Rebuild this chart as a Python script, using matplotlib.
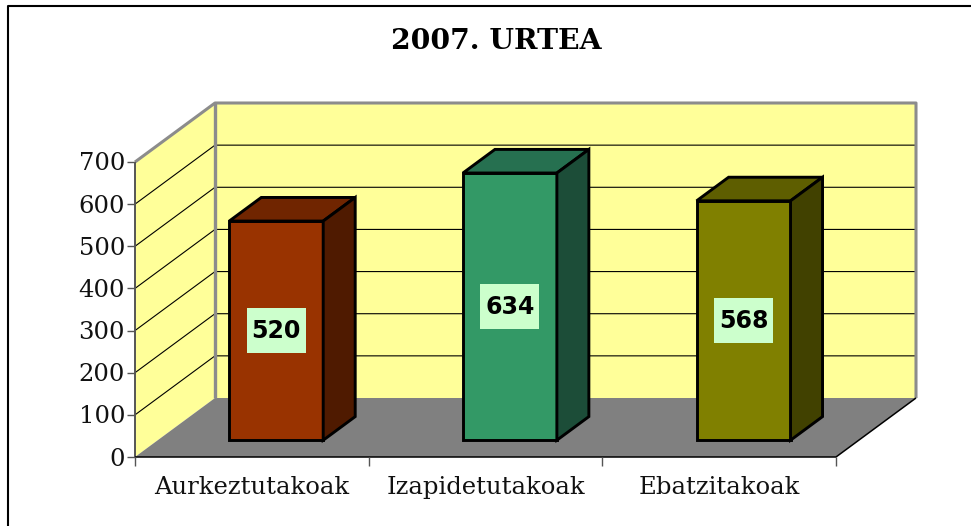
import numpy as np
import matplotlib
matplotlib.use('Agg')
import matplotlib.pyplot as plt
from matplotlib.patches import Polygon, Rectangle

kategoriak = ['Aurkeztutakoak', 'Izapidetutakoak', 'Ebatzitakoak']
balioak = [520, 634, 568]
tickak = [0, 100, 200, 300, 400, 500, 600, 700]

# oszlopok színei: elöl, tető, oldal
szin_elol = ['#993300', '#339966', '#808000']
szin_teto = ['#702500', '#267050', '#5E5E00']
szin_oldal = ['#4F1A00', '#1C4D38', '#414100']

W, H = 971, 526
fig = plt.figure(figsize=(W / 100, H / 100), dpi=100, facecolor='white')

# külső keret
hatter = fig.add_axes([0, 0, 1, 1])
hatter.set_xlim(0, W)
hatter.set_ylim(H, 0)
hatter.axis('off')
hatter.plot([7.5, 7.5, W], [H, 5.5, 5.5], color='black', lw=1.5)

# az első sík az axes, a mélység eltolás adatkoordinátában
x0, x1, y0, y1 = 135, 836, 457, 162
ax = fig.add_axes([x0 / W, (H - y0) / H, (x1 - x0) / W, (y0 - y1) / H])
ax.set_xlim(0, 3)
ax.set_ylim(0, 700)
ax.axis('off')
px = 3 / (x1 - x0)
py = 700 / (y0 - y1)
dx = 80 * px
dy = 59 * py


def poli(pontok, **kw):
    ax.add_patch(Polygon(pontok, closed=True, clip_on=False, **kw))


def vonal(xs, ys, **kw):
    ax.plot(xs, ys, clip_on=False, solid_capstyle='butt', **kw)


sarga = '#FFFF99'
szurke = '#808080'
poli([(0, 0), (dx, dy), (3 + dx, dy), (3 + dx, 700 + dy), (dx, 700 + dy), (0, 700)],
     facecolor=sarga, edgecolor='none', zorder=1)
poli([(0, 0), (3, 0), (3 + dx, dy), (dx, dy)], facecolor=szurke, edgecolor='none', zorder=2)

# rácsvonalak
for t in tickak[1:-1]:
    vonal([0, dx, 3 + dx], [t, t + dy, t + dy], color='black', lw=0.8, zorder=2)

# hátsó fal kerete
vonal([0, dx, 3 + dx, 3 + dx], [700, 700 + dy, 700 + dy, dy], color='#8C8C8C', lw=2.2, zorder=2)
vonal([dx, dx], [dy, 700 + dy], color='#8C8C8C', lw=2.4, zorder=2)

# tengelyek
vonal([0, 0], [0, 700], color='#555555', lw=1.4, zorder=3)
vonal([0, 3, 3 + dx], [0, 0, dy], color='black', lw=1.1, zorder=3)
for t in tickak:
    vonal([-8 * px, 0], [t, t], color='#555555', lw=1, zorder=3)
    ax.text(-10 * px, t - 2 * py, str(t), ha='right', va='center', fontsize=17.5,
            family='DejaVu Serif', color='#111111', zorder=5)
for i in range(4):
    vonal([i, i], [0, -9 * py], color='#555555', lw=1, zorder=3)

# oszlopok
szel = 0.402
d1, d2 = 0.305, 0.705
le = 1.2 * py  # kis függőleges igazítás
for i, ertek in enumerate(balioak):
    bal = i + 0.5 - szel / 2
    jobb = bal + szel
    xa, ya = dx * d1, dy * d1 - le
    xb, yb = dx * d2, dy * d2 - le
    kw = dict(edgecolor='black', lw=2.1, joinstyle='miter', zorder=4)
    poli([(bal + xa, ya), (jobb + xa, ya), (jobb + xa, ertek + ya), (bal + xa, ertek + ya)],
         facecolor=szin_elol[i], **kw)
    poli([(bal + xa, ertek + ya), (jobb + xa, ertek + ya), (jobb + xb, ertek + yb), (bal + xb, ertek + yb)],
         facecolor=szin_teto[i], **kw)
    poli([(jobb + xa, ya), (jobb + xb, yb), (jobb + xb, ertek + yb), (jobb + xa, ertek + ya)],
         facecolor=szin_oldal[i], **kw)
    # címke doboz 59x45 pixel
    kx = i + 0.5 + xa
    ky = ya + ertek / 2
    ax.add_patch(Rectangle((kx - 29.5 * px, ky - 22.5 * py), 59 * px, 45 * py,
                           facecolor='#CCFFCC', edgecolor='none', clip_on=False, zorder=5))
    ax.text(kx, ky, str(ertek), ha='center', va='center', fontsize=17,
            fontweight='bold', family='DejaVu Sans', color='black', zorder=6)
    ax.text(i + 0.5, -72, kategoriak[i], ha='center', va='center', fontsize=17.5,
            family='DejaVu Serif', color='#111111', zorder=5)

fig.text(496 / W, 1 - 41 / H, '2007. URTEA', ha='center', va='center', fontsize=20.3,
         fontweight='bold', family='DejaVu Serif', color='black')

fig.savefig('out.png', dpi=100)
